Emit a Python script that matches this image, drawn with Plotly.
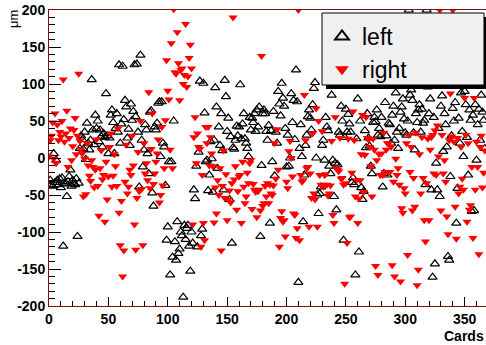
import plotly.graph_objects as go

left_rows = [
    [-36, -30, -36, -38, 6, -33, -3, -30, -36, -28],
    [-40, -27, -119, -35, -34, -52, -32, -25, -16, -38],
    [-30, -35, -36, -28, -106, -34, 13, 30, 25, 12],
    [35, -2, 47, 20, 11, 24, 106, 38, 18, 58],
    [40, 50, 22, 38, 29, 15, 33, 28, 87, 30],
    [6, 27, 58, 65, 48, 6, 40, 60, 35, 126],
    [20, 46, 124, 52, 78, 69, 27, 39, 17, 73],
    [51, 63, 126, 56, 127, 35, -39, 139, 24, -12],
    [11, 45, 38, 6, -21, 62, 64, -47, -65, 42],
    [38, 47, 74, 76, 2, 76, 20, 15, -37, -111],
    [-93, -5, -158, -5, -134, 50, -113, -138, -86, -129],
    [-123, -100, -105, -188, -91, -110, -95, -91, -119, -153],
    [-100, -115, -43, -55, -11, -120, 8, 104, -105, -96],
    [101, 61, -5, -3, -44, -23, 22, -1, -46, 24],
    [95, 69, -14, 42, 17, 60, 10, -43, 105, 83],
    [36, 54, -56, 29, -115, 14, 12, 24, 43, 30],
    [42, 99, 26, 46, 60, 26, 20, 13, 2, 55],
    [38, 54, 48, 60, 36, 65, 42, 69, -106, -10],
    [60, 65, 60, 36, 24, 44, -88, 37, -5, 63],
    [-24, 35, 20, 90, 73, 57, 101, 81, 70, 40],
    [-12, 31, -11, 0, 87, 48, 78, 25, 119, 76],
    [-168, 13, 45, 2, -86, -23, 17, 31, 56, 65],
    [54, 38, 72, 94, 102, 0, -50, -75, -48, -39],
    [17, 24, -3, 55, 42, 37, -11, -21, 85, -3],
    [-52, -7, -70, -9, 35, 31, 70, 50, -111, 28],
    [66, 35, 59, 46, 35, -33, -27, -36, -158, 26],
    [80, -127, 50, -40, -56, -45, 37, 14, 60, 27],
    [16, -11, -21, 48, 55, 49, 65, 31, 40, 29],
    [55, -39, -21, 75, 30, -23, 47, 45, 20, 58],
    [70, 24, 88, 35, 13, 40, 62, 69, 80, 53],
    [34, 31, 50, 200, 85, 92, 78, 34, 11, 60],
    [48, 65, 72, 35, 66, 47, 51, -36, 200, 96],
    [60, 80, -43, -161, 55, -143, -7, -43, 40, -52],
    [70, 84, 9, 60, 45, 15, -133, -138, -25, 30],
    [67, 50, 75, -88, -41, 54, 20, 88, 36, 2],
    [90, 72, 28, -23, 65, 51, -72, 58, -71, 72],
    [-3, 45, 66, 24, 85, 62, 51, 13],
]

right_rows = [
    [2, 24, 30, 48, -1, 60, -7, 45, 24, 35],
    [29, 50, 106, 22, 33, 64, -12, 27, 40, -3],
    [16, 38, 54, 5, 30, 114, 23, 12, 6, -52],
    [-1, -49, 20, -10, -24, -31, -3, -12, -40, -16],
    [25, -38, -78, -14, 10, -29, -23, -86, -5, -56],
    [-25, 15, 33, -39, -24, 5, -11, -38, 40, -74],
    [-118, -58, -160, -125, -32, 18, -48, -39, -16, -23],
    [30, -10, -90, -124, -54, 8, -45, 50, -42, -118],
    [20, -21, -7, -30, 89, -41, 12, 60, -35, -21],
    [-5, 6, 25, -60, -50, 42, -37, -14, 51, 132],
    [91, 79, 11, 155, -14, 201, 116, 114, 170, 128],
    [78, 119, 121, 100, 112, 181, 96, 110, 135, 153],
    [121, -90, 28, 55, -7, 33, 15, 12, -120, -23],
    [-88, -111, 42, 20, 42, -10, 28, 6, -11, -87],
    [-40, -75, -30, -50, -14, -125, -38, 10, -54, -22],
    [-84, -56, -44, -60, -34, 190, -29, -11, -70, -45],
    [-25, -23, -88, -5, -39, -61, -52, -20, -34, -7],
    [-3, -69, -35, -43, -46, -80, -45, -43, -71, 138],
    [-65, -61, -38, -52, -34, -61, -36, -48, -50, -37],
    [20, -28, 39, -16, -120, -81, -72, -86, -84, -106],
    [-32, -41, 9, 23, 0, -25, -75, -77, -108, -95],
    [200, -111, -23, -32, -30, 85, 24, -14, -12, -93],
    [-21, -54, 33, -48, -56, 67, -93, 50, -23, -36],
    [36, -39, -23, -22, -36, -51, -48, -37, 23, -77],
    [-88, 55, -14, -16, -18, 27, -28, -27, -36, -170],
    [-34, -115, 26, -80, -79, -20, 63, 24, -52, -30],
    [-88, -55, -30, 5, 58, -46, 4, 55, 27, 25],
    [15, -11, -52, 26, 11, -146, -3, -158, 5, -23],
    [6, -23, 34, -19, 11, 20, 20, -19, 15, -145],
    [-32, -160, -1, -23, -14, -36, -167, -68, -74, -41],
    [-48, 20, -131, 31, -19, 15, -71, -27, -66, 34],
    [-172, -151, 5, -48, 28, -27, -84, -113, -34, 26],
    [-84, 11, 28, 31, -21, 37, -23, 44, 2, 200],
    [-71, 31, -21, -3, -32, -79, -103, 24, 87, 29],
    [200, 22, -66, -109, 27, -48, -39, 15, -28, -43],
    [81, 31, -86, 20, -70, -64, -12, -108, 81, -43],
    [22, -12, -130, 15, 30, -40, -20, 10],
]

left = [v for row in left_rows for v in row]
right = [v for row in right_rows for v in row]
cards_left = list(range(len(left)))
cards_right = list(range(len(right)))

x_range = [0, 368]
y_range = [-200, 200]
x_ticks = [0, 50, 100, 150, 200, 250, 300, 350]
y_ticks = [-200, -150, -100, -50, 0, 50, 100, 150, 200]

W, H = 486, 345
ml, mr, mt, mb = 49, 0, 10, 39
pw, ph = W - ml - mr, H - mt - mb

def px_x(p):
    return (p - ml) / pw

def px_y(p):
    return 1 - (p - mt) / ph

fig = go.Figure()
fig.add_trace(go.Scatter(
    x=cards_left, y=left, mode="markers", name="left",
    marker=dict(symbol="triangle-up-open", size=8, color="black", line=dict(width=1.2, color="black")),
))
fig.add_trace(go.Scatter(
    x=cards_right, y=right, mode="markers", name="right",
    marker=dict(symbol="triangle-down", size=8, color="#ff0000", line=dict(width=0)),
))

axfont = dict(family="Liberation Sans", size=14, color="black", weight="bold")
axline = "#7a1010"

fig.update_xaxes(
    range=x_range, tickvals=x_ticks, ticktext=[str(t) for t in x_ticks],
    showgrid=False, zeroline=False, showline=True, linecolor=axline, linewidth=1,
    mirror=True, ticks="inside", ticklen=9, tickcolor="black", tickwidth=1,
    minor=dict(dtick=10, ticks="inside", ticklen=5, tickcolor="black", showgrid=False),
    tickfont=axfont,
)
fig.update_yaxes(
    range=y_range, tickvals=y_ticks, ticktext=[str(t) for t in y_ticks],
    showgrid=False, zeroline=False, showline=True, linecolor=axline, linewidth=1,
    mirror=False, ticks="inside", ticklen=12, tickcolor="black", tickwidth=1,
    minor=dict(dtick=10, ticks="inside", ticklen=6, tickcolor="black", showgrid=False),
    tickfont=axfont,
)

# legend shadow and box
fig.add_shape(type="rect", xref="paper", yref="paper",
              x0=px_x(326), x1=px_x(488), y0=px_y(89), y1=px_y(17),
              fillcolor="black", line=dict(width=0), layer="above")
fig.add_shape(type="rect", xref="paper", yref="paper",
              x0=px_x(322), x1=px_x(484), y0=px_y(85), y1=px_y(13),
              fillcolor="#f0f0f0", line=dict(width=1, color="black"), layer="above")

fig.update_layout(
    width=W, height=H,
    margin=dict(l=ml, r=mr, t=mt, b=mb),
    paper_bgcolor="white", plot_bgcolor="white",
    showlegend=True,
    legend=dict(
        x=px_x(322), y=px_y(15), xanchor="left", yanchor="top",
        bgcolor="rgba(0,0,0,0)", borderwidth=0,
        font=dict(family="Liberation Sans", size=23, color="black"),
        itemsizing="constant", tracegroupgap=0,
    ),
    annotations=[
        dict(text="μm", xref="paper", yref="paper", x=px_x(14), y=px_y(19),
             xanchor="center", yanchor="middle", textangle=-90, showarrow=False,
             font=dict(family="Liberation Sans", size=13, color="black")),
        dict(text="Cards", xref="paper", yref="paper", x=1.0, y=px_y(336),
             xanchor="right", yanchor="middle", showarrow=False,
             font=dict(family="Liberation Sans", size=14, color="black", weight="bold")),
    ],
)

fig.write_html("out.html")
